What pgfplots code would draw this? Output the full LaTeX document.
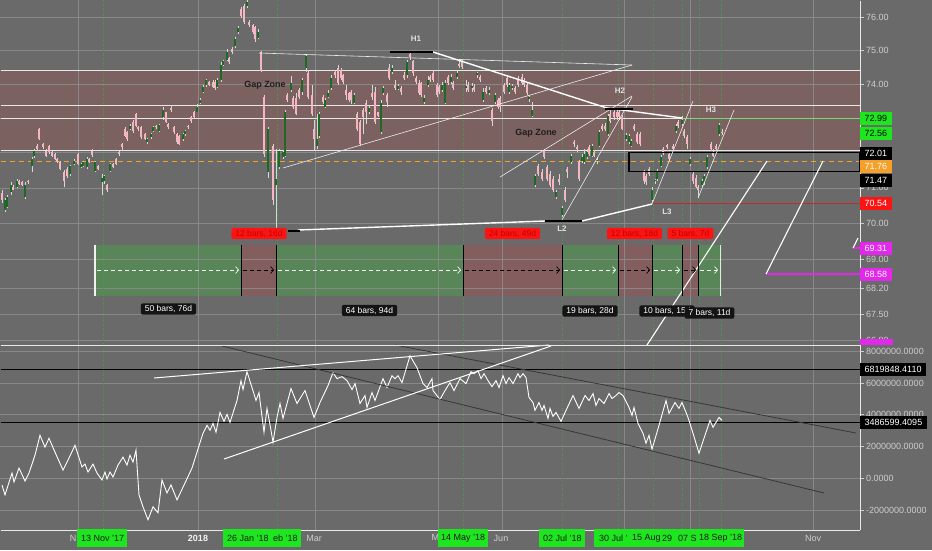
\documentclass[border=0pt]{standalone}
\usepackage{fontspec}
\setmainfont{Liberation Sans}
\usepackage{pgfplots}
\usepackage{pgfplotstable}
\pgfplotsset{compat=1.18}
\usetikzlibrary{arrows.meta}

\definecolor{bg}{RGB}{106,106,106}
\definecolor{gridc}{RGB}{136,136,136}
\definecolor{tickc}{RGB}{205,205,205}
\definecolor{zonec}{RGB}{124,97,97}
\definecolor{mgreen}{RGB}{88,134,88}
\definecolor{mred}{RGB}{132,94,94}
\definecolor{upc}{RGB}{30,105,35}
\definecolor{dnc}{RGB}{245,182,194}
\definecolor{wickc}{RGB}{215,215,215}
\definecolor{orangec}{RGB}{245,160,40}
\definecolor{lgreen}{RGB}{30,230,30}
\definecolor{levgreen}{RGB}{120,215,120}
\definecolor{redc}{RGB}{250,20,20}
\definecolor{darkred}{RGB}{200,0,0}
\definecolor{redline}{RGB}{190,45,45}
\definecolor{mag}{RGB}{225,40,235}
\definecolor{dotg}{RGB}{70,160,70}
\definecolor{zline}{RGB}{232,232,232}
\definecolor{chan}{RGB}{55,55,55}

% candles: x o h l c (price)
\pgfplotstableread{
x o h l c
5 70.37 70.72 70.31 70.66
7 70.46 70.80 70.43 70.75
11 70.89 71.15 70.80 71.09
17 71.03 71.24 70.98 71.18
25 70.75 71.15 70.69 71.09
32 71.61 71.87 71.44 71.81
34 71.90 72.10 71.84 72.04
70 71.38 71.64 71.32 71.61
74 71.67 71.81 71.64 71.75
81 71.58 71.70 71.55 71.67
83 71.61 71.75 71.58 71.73
87 71.58 71.87 71.52 71.81
95 71.47 71.75 71.44 71.73
102 71.15 71.38 70.80 71.29
104 71.18 71.35 71.12 71.32
110 71.47 71.70 71.44 71.67
130 72.68 72.82 72.65 72.76
147 72.30 72.42 72.24 72.39
151 72.45 72.56 72.39 72.53
153 72.62 72.76 72.59 72.73
159 72.62 72.82 72.59 72.79
163 73.02 73.34 72.96 73.25
183 72.39 72.56 72.33 72.53
185 72.53 72.65 72.48 72.62
197 73.19 73.40 73.17 73.34
200 73.45 73.59 73.42 73.53
203 73.77 73.98 73.74 73.92
206 73.98 74.16 73.92 74.13
217 73.92 74.19 73.89 74.13
221 74.13 74.64 74.07 74.58
223 74.58 74.73 74.55 74.67
227 74.73 75.03 74.67 74.94
235 75.12 75.39 75.06 75.33
238 75.54 75.75 75.48 75.69
247 76.32 76.53 76.26 76.47
258 75.36 75.63 75.33 75.57
268 71.44 72.73 71.29 72.68
276 71.09 72.10 69.86 71.24
279 71.58 72.10 71.52 72.04
283 71.87 72.04 71.81 72.01
285 71.90 73.25 71.87 73.19
291 73.83 74.25 73.77 74.04
302 73.77 74.19 73.68 74.13
306 74.49 74.88 74.37 74.82
317 72.19 73.11 72.10 72.39
319 72.48 73.17 72.42 73.11
325 73.34 73.59 73.31 73.53
328 73.62 73.83 73.59 73.74
331 73.89 74.28 73.83 74.19
354 73.45 73.74 73.40 73.68
369 73.19 73.37 73.11 73.31
381 72.59 73.53 72.53 73.45
383 73.74 73.95 73.68 73.89
392 74.37 74.58 74.31 74.49
398 73.86 74.01 73.83 73.95
407 74.28 74.73 74.19 74.64
424 73.48 73.68 73.42 73.59
428 73.98 74.25 73.92 74.13
442 73.83 74.07 73.77 73.98
445 73.45 74.13 73.42 74.04
451 74.07 74.31 74.01 74.22
457 74.22 74.43 74.16 74.34
466 73.89 74.13 73.77 73.95
472 73.89 74.04 73.77 73.95
477 74.28 74.37 74.19 74.34
483 73.53 73.89 73.48 73.77
489 73.74 73.92 73.68 73.83
495 73.48 73.74 73.42 73.68
509 73.77 74.04 73.71 73.98
512 73.89 74.01 73.83 73.95
529 73.56 73.68 73.48 73.62
532 73.05 73.48 73.02 73.25
535 71.09 71.38 71.01 71.32
556 70.75 70.95 70.69 70.89
562 70.23 70.49 70.17 70.43
571 71.73 71.96 71.67 71.90
582 71.75 71.96 71.70 71.87
584 71.73 72.10 71.67 71.96
587 71.87 72.10 71.81 72.01
592 71.90 72.24 71.87 72.19
597 71.75 71.87 71.67 71.78
599 72.19 72.65 72.16 72.59
608 72.53 73.11 72.48 73.05
626 72.39 72.56 72.33 72.50
629 72.30 72.53 72.24 72.48
631 72.19 72.39 72.16 72.33
652 70.66 71.01 70.60 70.95
655 71.18 71.24 71.12 71.21
657 71.24 71.52 71.18 71.47
661 71.61 71.93 71.58 71.87
676 72.62 72.82 72.56 72.76
682 72.82 73.05 72.76 72.96
690 71.67 71.87 71.61 71.81
702 71.09 71.24 71.03 71.18
704 71.15 71.38 71.09 71.32
707 71.58 71.93 71.52 71.87
719 72.53 72.85 72.48 72.79
}\up

\pgfplotstableread{
x o h l c
2 70.86 70.95 70.58 70.66
13 71.03 71.09 70.92 70.95
19 71.18 71.21 71.09 71.12
22 71.15 71.18 71.06 71.09
28 71.18 71.21 71.12 71.15
37 72.19 72.24 72.04 72.10
39 72.68 72.70 72.36 72.39
43 72.24 72.27 72.10 72.16
46 72.04 72.10 71.87 71.90
49 72.19 72.21 71.96 72.01
52 72.01 72.04 71.87 71.90
55 71.96 71.99 71.78 71.81
57 71.81 71.84 71.70 71.73
60 71.73 71.75 71.50 71.52
64 71.44 71.50 71.01 71.18
67 71.52 71.58 71.29 71.32
78 71.96 71.99 71.64 71.67
89 71.81 71.84 71.70 71.73
92 72.04 72.10 71.87 71.93
98 71.61 71.64 71.50 71.52
107 71.09 71.12 70.89 70.95
113 71.67 71.70 71.55 71.58
116 71.81 71.84 71.64 71.67
119 72.01 72.04 71.90 71.96
122 72.24 72.27 72.04 72.16
125 72.68 72.73 72.45 72.48
127 72.59 72.62 72.33 72.39
133 72.88 72.94 72.56 72.62
136 73.11 73.14 72.73 72.76
138 72.73 72.76 72.62 72.68
141 72.73 72.76 72.39 72.45
145 72.53 72.56 72.36 72.39
156 72.76 72.79 72.68 72.73
166 73.17 73.19 72.85 72.88
168 72.82 72.85 72.68 72.73
171 73.31 73.37 73.19 73.25
174 72.73 72.76 72.53 72.59
177 72.53 72.56 72.24 72.30
179 72.48 72.50 72.21 72.24
188 72.76 72.79 72.68 72.73
191 73.02 73.05 72.85 72.91
194 73.19 73.22 72.99 73.02
209 74.07 74.10 73.95 73.98
213 74.07 74.13 73.89 73.92
215 74.07 74.13 73.83 73.89
229 74.76 74.79 74.61 74.64
232 75.03 75.09 74.88 74.94
241 76.23 76.29 75.99 76.02
244 76.32 76.38 75.81 75.87
249 75.87 75.93 75.72 75.78
253 75.78 75.81 75.48 75.54
255 75.72 75.75 75.24 75.33
261 74.94 74.97 74.37 74.40
264 73.62 73.68 71.87 71.96
273 72.19 72.24 70.52 70.66
287 73.68 73.74 73.48 73.53
293 73.59 73.65 73.28 73.34
296 73.59 73.74 73.08 73.11
299 73.83 73.89 73.56 73.62
308 74.34 74.43 73.56 73.62
312 73.68 73.98 73.05 73.11
314 72.68 72.96 72.04 72.39
323 73.62 73.68 73.40 73.48
335 74.37 74.43 74.19 74.28
338 74.49 74.58 73.98 74.04
341 74.43 74.49 74.13 74.19
343 74.28 74.31 74.01 74.07
346 73.83 73.98 73.53 73.68
349 73.74 73.77 73.48 73.53
351 73.77 73.83 73.40 73.53
357 73.11 73.17 72.62 72.68
360 72.88 72.96 72.19 72.24
363 73.25 73.31 72.53 73.02
366 73.45 73.53 72.82 73.17
372 73.74 73.98 73.53 73.62
375 73.77 73.92 72.82 72.88
378 73.17 73.19 73.02 73.05
387 73.68 73.74 73.34 73.48
389 74.49 74.61 74.13 74.19
395 73.98 74.13 73.83 73.89
401 73.89 73.95 73.68 73.77
404 74.28 74.37 74.13 74.19
410 74.88 74.94 74.73 74.79
413 74.67 74.73 74.25 74.34
416 74.19 74.25 74.01 74.07
419 74.04 74.13 73.68 73.74
421 74.04 74.07 73.62 73.68
430 74.22 74.28 74.07 74.13
433 74.34 74.43 74.07 74.13
437 73.98 74.04 73.62 73.68
439 73.92 73.98 73.71 73.77
448 74.22 74.28 73.98 74.04
453 74.04 74.10 73.83 73.89
459 74.61 74.73 74.49 74.55
462 74.64 74.73 74.46 74.52
468 73.98 74.07 73.77 73.83
474 73.92 74.01 73.77 73.83
480 74.22 74.28 74.07 74.13
486 73.89 73.95 73.71 73.77
492 73.25 73.31 72.76 72.91
498 73.53 73.59 73.28 73.34
500 73.59 73.65 73.19 73.34
504 73.98 74.04 73.71 73.77
507 74.19 74.28 73.92 73.98
515 73.89 73.95 73.71 73.77
518 74.13 74.25 73.92 73.98
522 74.22 74.31 73.98 74.04
524 74.13 74.19 73.92 73.98
527 73.98 74.04 73.68 73.74
538 71.61 71.67 71.32 71.38
542 71.44 71.52 71.18 71.24
544 72.04 72.10 71.81 71.87
547 71.58 71.64 71.18 71.24
550 71.38 71.47 71.03 71.09
553 71.24 71.32 70.89 70.95
559 71.24 71.38 71.09 71.15
565 70.95 71.01 70.60 70.66
567 71.52 71.58 71.29 71.44
574 72.30 72.36 72.16 72.24
577 72.16 72.21 72.01 72.10
579 71.73 71.78 71.18 71.24
589 72.16 72.21 71.90 71.96
594 72.01 72.07 71.87 71.90
602 72.76 72.82 72.62 72.68
605 72.76 72.85 72.62 72.68
610 73.11 73.25 72.85 72.91
614 73.19 73.31 72.96 73.02
617 73.19 73.31 72.96 73.02
619 73.19 73.25 72.96 73.02
622 73.02 73.08 72.65 72.68
634 72.76 72.82 72.62 72.68
637 72.53 72.59 72.24 72.30
640 72.53 72.59 72.19 72.24
644 71.44 71.50 71.12 71.18
646 71.32 71.38 71.09 71.15
649 71.52 71.58 71.32 71.38
663 72.10 72.16 71.93 72.01
667 72.21 72.24 72.10 72.16
669 71.96 72.01 71.75 71.81
673 72.19 72.24 72.04 72.10
678 72.88 72.94 72.70 72.76
684 72.62 72.68 72.42 72.48
687 72.45 72.50 72.10 72.24
693 71.38 71.44 71.12 71.18
696 71.29 71.35 70.98 71.03
698 71.03 71.09 70.72 70.95
711 72.24 72.30 72.04 72.10
713 72.01 72.10 71.87 71.90
716 72.19 72.24 72.04 72.10
722 72.59 72.68 72.50 72.56
}\dn

% lower panel indicator, in millions
\pgfplotstableread{
x v
2 -0.41875
5 -1.04375
12 0.33125
14 -0.23125
19 0.64375
25 -0.16875
29 0.33125
35 1.45625
40 2.70625
45 1.95625
49 2.51875
55 1.64375
63 0.51875
68 1.14375
75 2.08125
82 0.70625
85 0.89375
88 0.39375
93 0.89375
97 0.33125
102 -0.10625
105 0.39375
107 -0.04375
110 0.39375
113 0.08125
118 0.83125
123 1.33125
127 0.83125
130 1.45625
133 1.01875
136 1.76875
139 -1.04375
143 -1.79375
148 -2.60625
153 -1.79375
158 -2.16875
162 -0.10625
167 -0.91875
171 -0.41875
177 -1.35625
185 -0.29375
192 0.64375
197 1.64375
203 2.83125
207 3.33125
210 3.01875
213 3.45625
216 2.89375
220 4.14375
224 3.58125
227 4.01875
230 3.51875
237 4.89375
241 6.14375
243 5.58125
247 6.70625
252 5.70625
256 4.89375
259 5.39375
264 2.89375
267 4.39375
271 3.01875
273 2.26875
277 3.83125
280 4.70625
283 3.76875
291 5.64375
297 4.70625
305 5.51875
314 3.83125
320 4.76875
328 5.83125
333 6.64375
337 6.26875
342 6.39375
347 6.14375
352 5.58125
355 5.95625
360 4.70625
365 5.20625
367 4.45625
372 5.39375
375 4.89375
383 6.26875
387 5.70625
392 6.45625
395 6.26875
398 6.45625
402 6.01875
410 7.70625
417 6.95625
423 5.95625
427 5.70625
432 6.26875
433 5.51875
440 4.95625
445 5.51875
450 6.01875
454 5.51875
460 6.26875
466 5.95625
471 6.70625
474 6.58125
478 6.76875
481 6.26875
484 6.58125
488 6.14375
492 5.76875
496 6.14375
499 5.70625
503 6.45625
506 5.95625
509 6.33125
513 5.95625
518 6.58125
520 6.33125
523 6.58125
526 6.33125
529 5.08125
533 4.76875
535 4.26875
539 4.76875
542 4.26875
544 4.58125
548 3.76875
550 4.39375
553 3.89375
556 4.14375
561 3.58125
566 4.26875
573 5.20625
579 4.39375
585 5.20625
589 4.89375
593 5.33125
596 4.58125
599 5.01875
604 4.70625
609 5.33125
612 5.01875
616 5.20625
619 5.39375
623 5.20625
629 4.45625
632 3.95625
634 4.45625
638 3.45625
643 2.83125
646 2.20625
649 2.70625
652 1.83125
659 3.33125
666 4.89375
669 4.08125
675 4.76875
679 4.39375
682 4.76875
688 3.83125
693 2.83125
699 1.58125
704 2.51875
710 3.64375
713 3.20625
719 3.83125
722 3.64375
}\ind

\pgfplotsset{
  wick/.style={draw=wickc, line width=0.6pt, mark=none, forget plot},
  dnbody/.style={draw=dnc, line width=2.3pt, mark=none, forget plot},
  upedge/.style={draw=black, line width=2.7pt, mark=none, forget plot},
  upbody/.style={draw=upc, line width=1.5pt, mark=none, forget plot},
}

% chart rows in pixels: the price scale is logarithmic,
% 76.00 sits 17.3 rows from the top and ln(1) spans 2505 rows
\newcommand\pricerow[2]{\pgfmathsetmacro#1{17.3+2505*ln(76/#2)}}

% one candle per table row: wick, then body
\newcommand\drawcandles[3]{%
  \pgfplotstablegetrowsof{#1}%
  \pgfmathtruncatemacro\nrows{\pgfplotsretval-1}%
  \pgfplotsinvokeforeach{0,...,\nrows}{%
    \pgfplotstablegetelem{##1}{x}\of#1\let\cx\pgfplotsretval
    \pgfplotstablegetelem{##1}{o}\of#1\pricerow\co\pgfplotsretval
    \pgfplotstablegetelem{##1}{h}\of#1\pricerow\ch\pgfplotsretval
    \pgfplotstablegetelem{##1}{l}\of#1\pricerow\cl\pgfplotsretval
    \pgfplotstablegetelem{##1}{c}\of#1\pricerow\cc\pgfplotsretval
    \edef\docandle{%
      \noexpand\addplot[wick] coordinates {(\cx,\cl) (\cx,\ch)};%
      \noexpand\addplot[#2] coordinates {(\cx,\co) (\cx,\cc)};%
      \noexpand\addplot[#3] coordinates {(\cx,\co) (\cx,\cc)};}%
    \docandle
  }%
}

\tikzset{
  blab/.style={fill=black!92, text=white, rounded corners=2pt,
    font=\fontsize{8.5}{10}\selectfont, inner xsep=4pt, inner ysep=2pt},
  rlab/.style={fill=redc, text=darkred, rounded corners=1.5pt,
    font=\fontsize{8.5}{10}\selectfont, inner xsep=4pt, inner ysep=2pt},
  pbox/.style={anchor=west, font=\fontsize{9}{10}\selectfont,
    inner xsep=4.5pt, inner ysep=0pt, minimum height=13pt},
  hl/.style={font=\bfseries\fontsize{8}{9}\selectfont, text=white!88!black},
  tl/.style={font=\fontsize{9}{10}\selectfont, text=tickc},
  yl/.style={font=\fontsize{9}{10}\selectfont, text=tickc, anchor=west, inner sep=0pt},
  gl/.style={font=\fontsize{9}{10}\selectfont, text=black!90, anchor=west, inner sep=0pt},
  meas/.style={dash pattern=on 4pt off 3pt, line width=0.7pt,
    -{Straight Barb[length=3pt,width=7pt]}},
}

\begin{document}
\begin{tikzpicture}
% one canvas axis in chart pixels (932 x 550, rows counted from the top)
\begin{axis}[scale only axis, width=932pt, height=550pt,
  xmin=0, xmax=932, ymin=0, ymax=550, y dir=reverse,
  hide axis, clip mode=individual]

  \fill[bg] (0,0) rectangle (932,550);
  \fill[zonec] (0,70.7) rectangle (860,150.7);
  % date ranges
  \fill[mgreen] (95,245) rectangle (241,296);
  \fill[mred] (241,245) rectangle (276,296);
  \fill[mgreen] (276,245) rectangle (463,296);
  \fill[mred] (463,245) rectangle (562,296);
  \fill[mgreen] (562,245) rectangle (618,296);
  \fill[mred] (618,245) rectangle (652,296);
  \fill[mgreen] (652,245) rectangle (682,296);
  \fill[mred] (682,245) rectangle (698,296);
  \fill[mgreen] (698,245) rectangle (720,296);

  % grid: price rows 76 ... 66.8, indicator rows 8M ... -2M
  \pgfplotsinvokeforeach{17.3,50.5,84.1,118.2,152.7,187.8,223.3,259.4,288.6,314.4,340.5,351.1,382.9,414.7,446.5,478.3,510.1}{
    \draw[gridc, line width=0.5pt] (0.3,#1) -- (860,#1);
    \draw[tickc, line width=0.5pt] (860,#1) -- (864,#1);
  }
  \pgfplotsinvokeforeach{78,198,315,438,502,624,690,813}{
    \draw[gridc, line width=0.5pt] (#1,0.3) -- (#1,530);
  }
  \pgfplotsinvokeforeach{103,277,463,562,618,653,682,699,721}{
    \draw[dotg, dotted, line width=0.5pt] (#1,0.3) -- (#1,530);
  }

  \draw[zline, line width=1.2pt] (0.6,70.7) -- (860,70.7);
  \draw[zline, line width=1.2pt] (0.6,105.3) -- (860,105.3);
  \draw[zline, line width=1.2pt] (0.6,118.7) -- (682,118.7);
  \draw[zline, line width=1.2pt] (0.6,150.7) -- (860,150.7);
  \draw[orangec, line width=1.3pt, dash pattern=on 5pt off 4pt] (0.7,161.7) -- (860,161.7);
  \draw[black, line width=1pt] (0.5,369) -- (860,369);
  \draw[black, line width=1pt] (0.5,422) -- (860,422);

  % candles and indicator
  \drawcandles{\dn}{dnbody}{dnbody}
  \drawcandles{\up}{upedge}{upbody}
  \addplot[white, line width=0.9pt, mark=none] table[x=x, y expr={478.3-15.9*\thisrow{v}}] {\ind};

  % levels
  \draw[black, line width=1.2pt] (629,152.7) rectangle (860,171.3);
  \draw[redline, line width=1.6pt] (652,203.3) -- (860,203.3);
  \draw[levgreen, line width=1.6pt] (682,118.5) -- (860,118.5);
  \draw[mag, line width=1.6pt] (766,274) -- (860,274);
  \draw[mag, line width=1.6pt] (853,248) -- (860,248);
  % thin trendlines
  \draw[white!85!gray, line width=0.6pt] (259,53) -- (632,65);
  \draw[white!85!gray, line width=0.6pt] (283,168) -- (632,65);
  \draw[white!85!gray, line width=0.6pt] (500,177) -- (632,96);
  \draw[white!85!gray, line width=0.6pt] (562,220) -- (632,97);
  \draw[white!85!gray, line width=0.6pt] (652,204) -- (693,101);
  \draw[white!85!gray, line width=0.6pt] (698,198) -- (734,110);
  % thick trendlines
  \draw[white, line width=1.4pt] (433,52) -- (607,108) -- (682,118);
  \draw[white, line width=1.4pt] (298,230) -- (545,221);
  \draw[white, line width=1.4pt] (582,221) -- (652,204);
  \draw[white, line width=1.1pt] (647,345) -- (767,161);
  \draw[white, line width=1.1pt] (766,274) -- (823,161);
  \draw[white, line width=1.1pt] (853,248) -- (858,238);
  \draw[black, line width=1.6pt] (390,52) -- (433,52);
  \draw[black, line width=1.6pt] (605,109) -- (633,109);
  \draw[black, line width=1.6pt] (545,221) -- (582,221);
  \draw[black, line width=1.6pt] (288,231) -- (300,231);
  \node[hl] at (416,39) {H1};
  \node[hl] at (620,91) {H2};
  \node[hl] at (711,110) {H3};
  \node[hl] at (562,229) {L2};
  \node[hl] at (667,212) {L3};
  \node[font=\bfseries\fontsize{9}{10}\selectfont, text=black!88] at (265,85) {Gap Zone};
  \node[font=\bfseries\fontsize{9}{10}\selectfont, text=black!88] at (536,133) {Gap Zone};
  % date range marks
  \draw[white!90!gray, line width=1.3pt] (95,245) -- (95,296);
  \draw[white!80!gray, line width=0.8pt] (720,245) -- (720,296);
  \pgfplotsinvokeforeach{241,276,463,562,618,652,682,698}{
    \draw[black, line width=0.9pt] (#1,245) -- (#1,296);
  }
  \draw[meas, white!90!gray] (97,270) -- (239,270);
  \draw[meas, black] (243,270) -- (274,270);
  \draw[meas, white!90!gray] (278,270) -- (461,270);
  \draw[meas, black] (465,270) -- (560,270);
  \draw[meas, white!90!gray] (564,270) -- (616,270);
  \draw[meas, black] (620,270) -- (650,270);
  \draw[meas, white!90!gray] (654,270) -- (680,270);
  \draw[meas, black] (684,270) -- (696,270);
  \draw[meas, white!90!gray] (700,270) -- (718,270);
  \node[rlab] at (259,233.5) {12 bars, 16d};
  \node[rlab] at (512.5,233.5) {24 bars, 49d};
  \node[rlab] at (634.5,233.5) {12 bars, 18d};
  \node[rlab] at (690.5,233.5) {5 bars, 7d};
  \node[blab] at (168.5,309) {50 bars, 76d};
  \node[blab] at (369.5,310.5) {64 bars, 94d};
  \node[blab] at (590,311) {19 bars, 28d};
  \node[blab] at (667,311) {10 bars, 15d};
  \node[blab] at (709.5,313) {7 bars, 11d};
  % lower panel lines
  \draw[chan, line width=0.8pt] (222,346) -- (824,493);
  \draw[chan, line width=0.8pt] (395,345) -- (856,433);
  \draw[white, line width=1pt] (154,378) -- (549,345);
  \draw[white, line width=1pt] (224,459) -- (551,346);
  % frame
  \draw[white!82!gray, line width=1pt] (0.5,345) -- (860,345);
  \draw[white!82!gray, line width=1pt] (0.5,530) -- (860,530);
  \draw[white!82!gray, line width=1pt] (860,0.5) -- (860,530);
  % price scale labels
  \node[yl] at (866,17.3) {76.00};
  \node[yl] at (866,50.5) {75.00};
  \node[yl] at (866,84.1) {74.00};
  \node[yl] at (866,118.2) {73.00};
  \node[yl] at (866,152.7) {72.00};
  \node[yl] at (866,187.8) {71.00};
  \node[yl] at (866,223.3) {70.00};
  \node[yl] at (866,259.4) {69.00};
  \node[yl] at (866,288.6) {68.20};
  \node[yl] at (866,314.4) {67.50};
  \node[yl] at (866,340.5) {66.80};
  \node[yl] at (866,351.1) {8000000.0000};
  \node[yl] at (866,382.9) {6000000.0000};
  \node[yl] at (866,414.7) {4000000.0000};
  \node[yl] at (866,446.5) {2000000.0000};
  \node[yl] at (866,478.3) {0.0000};
  \node[yl] at (866,510.1) {-2000000.0000};
  % price tags
  \fill[mag] (860,339) rectangle (893,344.5);
  \node[pbox, fill=lgreen, text=black] at (860,118.5) {72.99};
  \node[pbox, fill=lgreen, text=black] at (860,133) {72.56};
  \node[pbox, fill=black, text=white] at (860,153) {72.01};
  \node[pbox, fill=orangec, text=white] at (860,166.5) {71.76};
  \node[pbox, fill=black, text=white] at (860,180) {71.47};
  \node[pbox, fill=redc, text=white] at (860,203.5) {70.54};
  \node[pbox, fill=mag, text=white] at (860,248.5) {69.31};
  \node[pbox, fill=mag, text=white] at (860,274.5) {68.58};
  \node[pbox, fill=black, text=white] at (860,369) {6819848.4110};
  \node[pbox, fill=black, text=white] at (860,422) {3486599.4095};
  % time axis
  \node[tl] at (73,538) {N};
  \node[tl, font=\bfseries\fontsize{9}{10}\selectfont, text=white!90!gray] at (198,538) {2018};
  \node[tl] at (314,538) {Mar};
  \node[tl] at (440,538) {May};
  \node[tl] at (501,538) {Jun};
  \node[tl] at (813,538) {Nov};
  \fill[lgreen] (77,529) rectangle (127,547);
  \node[gl] at (81,538) {13 Nov '17};
  \fill[lgreen] (223,529) rectangle (301,547);
  \node[gl] at (227,538) {26 Jan '18};
  \node[gl] at (273,538) {eb '18};
  \fill[lgreen] (438,529) rectangle (488,547);
  \node[gl] at (441,538) {14 May '18};
  \fill[lgreen] (539,529) rectangle (585,547);
  \node[gl] at (543,538) {02 Jul '18};
  \fill[lgreen] (594,529) rectangle (744,547);
  \node[gl] at (599,538) {30 Jul '};
  \node[gl] at (632,538) {15 Aug};
  \node[gl] at (662,538) {29};
  \node[gl] at (678,538) {07 S};
  \node[gl] at (699,538) {18 Sep '18};
\end{axis}
\end{tikzpicture}
\end{document}
